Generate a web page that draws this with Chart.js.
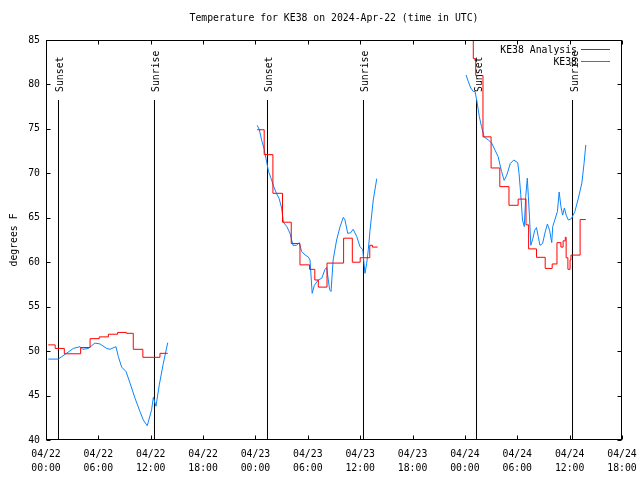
<!DOCTYPE html>
<html>
<head>
<meta charset="utf-8">
<script src="https://cdn.jsdelivr.net/npm/chart.js@4/dist/chart.umd.min.js"></script>
<style>
  html, body { margin: 0; padding: 0; background: #fff; }
  #wrap { width: 640px; height: 480px; }
</style>
</head>
<body>
<div id="wrap"><canvas id="tempChart" width="640" height="480"></canvas></div>
<script>
// hours since 04/22 00:00 UTC, null = gap between runs
const anaHours = [0.26, 1.05, 2.1, 3.97, 5.05, 6.1, 7.15, 8.2, 9.2, 10.0, 11.1, 13.06, 13.95,
  18,
  24.2, 25.0, 26.0, 27.1, 28.1, 29.1, 30.2, 30.8, 31.2, 32.2, 34.1, 35.1, 36.0, 37.1, 37.4, 38.0,
  43,
  48.7, 48.96, 49.24, 50.07, 51.0, 52.0, 53.05, 54.1, 55.0, 55.3, 56.2, 57.2, 58.0, 58.55, 59.0,
  59.25, 59.5, 59.6, 59.8, 60.05, 60.15, 61.2, 61.85];
const anaTemps = [50.7, 50.3, 49.7, 50.4, 51.4, 51.6, 51.9, 52.1, 52.0, 50.2, 49.3, 49.75, 49.75,
  null,
  74.9, 72.1, 67.75, 64.5, 62.1, 59.7, 59.2, 58.0, 57.2, 59.9, 62.7, 60.0, 60.5, 61.9, 61.7, 61.7,
  null,
  87, 82.9, 81.0, 74.1, 70.6, 68.5, 66.4, 67.1, 64.2, 61.5, 60.55, 59.3, 59.8, 62.2, 61.7,
  62.4, 62.8, 60.5, 59.2, 60.25, 60.8, 64.8, 64.8];

const obsHours = [0.26, 1.41, 2.56, 3.13, 3.9, 4.2, 4.85, 5.6, 6.2, 6.95, 7.33, 8.02, 8.28, 8.67,
  9.17, 9.63, 10.2, 10.77, 11.15, 11.6, 12.1, 12.3, 12.6, 12.98, 13.44, 13.95,
  18,
  24.2, 24.45, 24.7, 24.98, 25.2, 25.5, 25.8, 26.1, 26.4, 26.7, 27.0, 27.2, 27.6, 27.96, 28.3,
  28.7, 29.0, 29.3, 29.7, 30.05, 30.25, 30.5, 30.75, 31.2, 31.6, 31.97, 32.16, 32.5, 32.66, 32.9,
  33.3, 33.7, 34.07, 34.26, 34.57, 34.9, 35.2, 35.6, 35.98, 36.3, 36.4, 36.55, 36.75, 36.93,
  37.13, 37.5, 37.9,
  43,
  48.13, 48.4, 48.66, 48.96, 49.16, 49.35, 49.65, 49.9, 50.2, 50.68, 51.07, 51.45, 51.8, 52.2,
  52.5, 52.8, 53.2, 53.6, 54.05, 54.2, 54.4, 54.6, 54.8, 54.97, 55.15, 55.27, 55.4, 55.55, 55.8,
  56.0, 56.2, 56.4, 56.6, 56.9, 57.2, 57.45, 57.7, 57.95, 58.06, 58.3, 58.6, 58.8, 59.0, 59.2,
  59.4, 59.6, 59.85, 60.2, 60.6, 61.0, 61.4, 61.65, 61.85];
const obsTemps = [49.1, 49.1, 49.9, 50.3, 50.5, 50.2, 50.3, 50.9, 50.8, 50.3, 50.2, 50.5, 49.4, 48.2,
  47.7, 46.4, 44.7, 43.2, 42.25, 41.6, 43.4, 44.8, 43.8, 46.2, 48.6, 50.95,
  null,
  75.4, 74.9, 73.75, 72.8, 71.7, 70.2, 69.4, 68.5, 67.75, 67.2, 66.1, 64.5, 64.0, 63.25, 61.9,
  61.9, 62.2, 61.2, 60.8, 60.6, 60.25, 56.5, 57.4, 58.0, 58.2, 59.2, 59.4, 56.9, 56.7, 60.25,
  62.5, 64.0, 65.05, 64.75, 63.25, 63.3, 63.7, 62.9, 61.75, 61.4, 60.25, 58.75, 59.9, 61.4,
  63.6, 67.0, 69.4,
  null,
  81.06, 80.3, 79.6, 79.2, 79.2, 78.25, 76.4, 75.25, 74.1, 73.75, 73.4, 72.6, 71.9, 70.2,
  69.2, 69.8, 71.1, 71.5, 71.2, 70.0, 67.6, 64.75, 64.0, 67.4, 69.45, 67.4, 65.1, 61.9, 62.7,
  63.6, 63.9, 62.9, 61.9, 62.1, 63.4, 64.3, 63.6, 62.2, 64.0, 64.75, 65.7, 67.9, 66.25, 65.3,
  66.1, 65.3, 64.75, 64.9, 65.7, 67.2, 68.9, 71.1, 73.2];

const sunHours = [1.432, 12.43, 25.38, 36.38, 49.33, 60.33];
const sunLabels = ['Sunset', 'Sunrise', 'Sunset', 'Sunrise', 'Sunset', 'Sunrise'];
const sunLineTop = 78.25;

const xTickLabels = [
  ['04/22', '00:00'], ['04/22', '06:00'], ['04/22', '12:00'], ['04/22', '18:00'],
  ['04/23', '00:00'], ['04/23', '06:00'], ['04/23', '12:00'], ['04/23', '18:00'],
  ['04/24', '00:00'], ['04/24', '06:00'], ['04/24', '12:00'], ['04/24', '18:00']
];
const seriesNames = ['KE38 Analysis', 'KE38'];
const seriesColors = ['#ff0000', '#0a84ff'];

const FONT = 'DejaVu Sans Mono';
Chart.defaults.color = '#000';

function toPoints(xs, ys) {
  return xs.map((x, i) => ({ x: x, y: ys[i] }));
}

// vertical sunrise / sunset markers, each one a two point segment
const sunPoints = [];
sunHours.forEach(h => {
  sunPoints.push({ x: h, y: 40 }, { x: h, y: sunLineTop }, { x: h + 0.01, y: null });
});

const framePlugin = {
  id: 'gnuplotFrame',
  afterDatasetsDraw(chart) {
    const ctx = chart.ctx;
    const a = chart.chartArea;
    const xs = chart.scales.x;
    const ys = chart.scales.y;
    ctx.save();
    ctx.strokeStyle = '#000';
    ctx.lineWidth = 1;
    const L = Math.round(a.left) + 0.5, R = Math.round(a.right) - 0.5;
    const T = Math.round(a.top) + 0.5, B = Math.round(a.bottom) - 0.5;
    ctx.strokeRect(L, T, R - L, B - T);
    ctx.beginPath();
    xs.ticks.forEach(t => {
      const px = Math.round(xs.getPixelForValue(t.value)) + 0.5;
      const len = t.value % 6 === 0 ? 4 : 2;
      ctx.moveTo(px, B); ctx.lineTo(px, B - len);
      ctx.moveTo(px, T); ctx.lineTo(px, T + len);
    });
    ys.ticks.forEach(t => {
      const py = Math.round(ys.getPixelForValue(t.value)) + 0.5;
      ctx.moveTo(L, py); ctx.lineTo(L + 4, py);
      ctx.moveTo(R, py); ctx.lineTo(R - 4, py);
    });
    ctx.stroke();

    // sunrise / sunset labels, written upward
    ctx.fillStyle = '#000';
    ctx.font = '9.8px "' + FONT + '"';
    ctx.textAlign = 'left';
    ctx.textBaseline = 'alphabetic';
    const labelY = ys.getPixelForValue(sunLineTop) - 8;
    sunHours.forEach((h, i) => {
      const px = Math.round(xs.getPixelForValue(h));
      ctx.save();
      ctx.translate(px + 5, labelY);
      ctx.rotate(-Math.PI / 2);
      ctx.fillText(sunLabels[i], 0, 0);
      ctx.restore();
    });

    // key, top right
    ctx.textAlign = 'right';
    ctx.textBaseline = 'middle';
    seriesNames.forEach((name, i) => {
      const y = a.top + 10 + i * 12.5;
      ctx.fillStyle = '#000';
      ctx.fillText(name, a.right - 45, y);
      ctx.beginPath();
      ctx.strokeStyle = seriesColors[i];
      ctx.moveTo(a.right - 41, Math.round(y) - 0.5);
      ctx.lineTo(a.right - 12, Math.round(y) - 0.5);
      ctx.stroke();
    });
    ctx.restore();
  }
};

new Chart(document.getElementById('tempChart'), {
  type: 'line',
  data: {
    datasets: [
      {
        label: seriesNames[0],
        data: toPoints(anaHours, anaTemps),
        borderColor: seriesColors[0],
        borderWidth: 1,
        pointRadius: 0,
        stepped: 'before',
        spanGaps: false,
        order: 1
      },
      {
        label: seriesNames[1],
        data: toPoints(obsHours, obsTemps),
        borderColor: seriesColors[1],
        borderWidth: 1,
        pointRadius: 0,
        tension: 0,
        spanGaps: false,
        order: 2
      },
      {
        label: 'sun',
        data: sunPoints,
        borderColor: '#000',
        borderWidth: 1,
        pointRadius: 0,
        spanGaps: false,
        order: 3
      }
    ]
  },
  options: {
    responsive: false,
    devicePixelRatio: 1,
    animation: false,
    layout: { padding: { right: 18, left: 0, bottom: 0, top: 0 } },
    plugins: {
      legend: { display: false },
      tooltip: { enabled: false },
      title: {
        display: true,
        fullSize: false,
        text: 'Temperature for KE38 on 2024-Apr-22 (time in UTC)',
        font: { family: FONT, size: 9.8, weight: 'normal' },
        color: '#000',
        padding: { top: 13, bottom: 15.2 }
      }
    },
    scales: {
      x: {
        type: 'linear',
        min: 0,
        max: 66,
        afterFit(scale) {
          scale.height = 40;
          scale.paddingLeft = 0;
          scale.paddingRight = 0;
        },
        grid: { display: false, drawTicks: false },
        border: { display: false },
        ticks: {
          stepSize: 2,
          autoSkip: false,
          maxRotation: 0,
          padding: 7,
          font: { family: FONT, size: 9.8, lineHeight: 1.43 },
          callback: v => (v % 6 === 0 ? xTickLabels[v / 6] : null)
        }
      },
      y: {
        min: 40,
        max: 85,
        afterFit(scale) { scale.width = 46; },
        grid: { display: false, drawTicks: false },
        border: { display: false },
        title: {
          display: true,
          text: 'degrees F',
          font: { family: FONT, size: 9.8 },
          padding: { top: 9, bottom: 0 }
        },
        ticks: {
          stepSize: 5,
          padding: 6,
          font: { family: FONT, size: 9.8 }
        }
      }
    }
  },
  plugins: [framePlugin]
});
</script>
</body>
</html>
